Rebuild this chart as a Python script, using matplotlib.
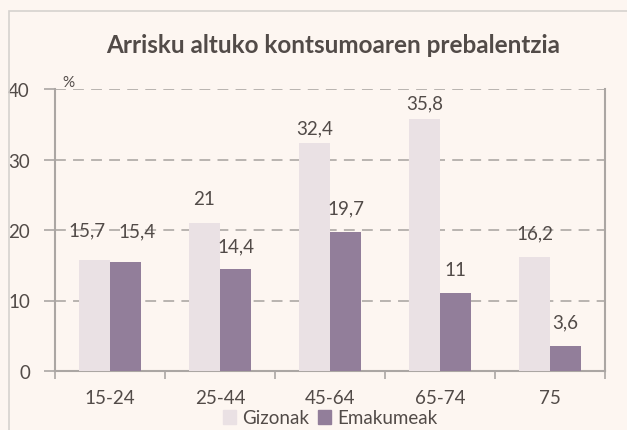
import matplotlib.pyplot as plt
import matplotlib.patches as mpatches
import numpy as np

categories = ['15-24', '25-44', '45-64', '65-74', '75']
gizonak = [15.7, 21, 32.4, 35.8, 16.2]
emakumeak = [15.4, 14.4, 19.7, 11, 3.6]
g_labels = ['15,7', '21', '32,4', '35,8', '16,2']
e_labels = ['15,4', '14,4', '19,7', '11', '3,6']

# label placement (pixels from bar top / bar centre), as in the original
g_dy = [30, 24, 15, 16, 24]
e_dy = [32, 24, 24, 24, 24]
g_dx = [-7, 0, 0, 0, 0]
e_dx = [11, 0, 0, 0, 0]

bg = '#FDF6F1'
txt = '#524B48'
gray = '#ABA6A3'
c_g = '#EAE1E4'
c_e = '#927E9A'
fs = 13.5

plt.rcParams['font.family'] = ['Lato', 'DejaVu Sans']

fig = plt.figure(figsize=(6.27, 4.31), dpi=100, facecolor=bg)
# outer chart frame
fig.patches.append(mpatches.Rectangle((9 / 627, -0.01), 1.0, (431 - 12) / 431 + 0.01,
                                      transform=fig.transFigure, fill=False,
                                      edgecolor='#D6D2CF', linewidth=1.2))

ax = fig.add_axes([55 / 627, (431 - 372) / 431, 550 / 627, (372 - 90) / 431])
ax.set_facecolor(bg)

x = np.arange(len(categories))
w = 0.282
ax.bar(x - w / 2, gizonak, w, color=c_g, zorder=3)
ax.bar(x + w / 2, emakumeak, w, color=c_e, zorder=3)

k = 0.72  # px -> points at 100 dpi
for i in range(len(categories)):
    ax.annotate(g_labels[i], (x[i] - w / 2, gizonak[i]), xytext=(g_dx[i] * k, g_dy[i] * k),
                textcoords='offset points', ha='center', va='center', fontsize=fs, color=txt, zorder=4)
    ax.annotate(e_labels[i], (x[i] + w / 2, emakumeak[i]), xytext=(e_dx[i] * k, e_dy[i] * k),
                textcoords='offset points', ha='center', va='center', fontsize=fs, color=txt, zorder=4)

ax.set_xlim(-0.5, len(categories) - 0.5)
ax.set_ylim(0, 40)
ax.set_yticks([0, 10, 20, 30, 40])
ax.set_xticks(x)
ax.set_xticklabels(categories)
ax.set_xticks(np.arange(-0.5, len(categories), 1), minor=True)
ax.tick_params(axis='x', which='major', length=0, pad=13, labelsize=fs, labelcolor=txt)
ax.tick_params(axis='x', which='minor', length=6, width=1.2, color=gray, direction='out')
ax.tick_params(axis='y', length=8, width=1.2, color=gray, pad=10, labelsize=fs, labelcolor=txt)

ax.yaxis.grid(True, linestyle=(0, (6, 4)), color='#B3AEAB', linewidth=1.3, zorder=0)
ax.set_axisbelow(True)
for s in ['left', 'bottom', 'right']:
    ax.spines[s].set_color(gray)
    ax.spines[s].set_linewidth(1.5)
ax.spines['top'].set_visible(False)

ax.text(0.025, 1.0, '%', transform=ax.transAxes, fontsize=11, color=txt, va='bottom', ha='center')

fig.text(333 / 627, 1 - 53 / 431, 'Arrisku altuko kontsumoaren prebalentzia', ha='center', va='baseline',
         fontsize=17.5, fontweight='bold', color=txt)

handles = [mpatches.Patch(color=c_g, label='Gizonak'), mpatches.Patch(color=c_e, label='Emakumeak')]
fig.legend(handles=handles, loc='center', bbox_to_anchor=(330 / 627, 1 - 419 / 431), ncol=2, frameon=False,
           fontsize=fs, labelcolor=txt, handlelength=0.7, handleheight=0.7, handletextpad=0.3,
           columnspacing=0.5, borderpad=0)

fig.savefig('out.png', dpi=100, facecolor=bg)
